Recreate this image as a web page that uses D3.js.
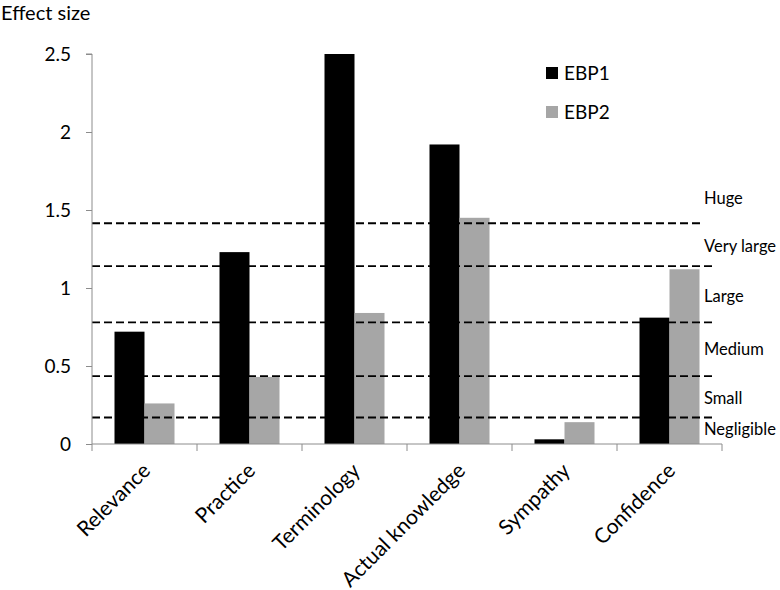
<!DOCTYPE html>
<html>
<head>
<meta charset="utf-8">
<script src="https://cdn.jsdelivr.net/npm/d3@7"></script>
<style>
  body { margin: 0; background: #fff; }
  text { font-family: Lato, "Open Sans", sans-serif; fill: #000; }
</style>
</head>
<body>
<svg id="chart" width="780" height="590"></svg>
<script>
const categories = ["Relevance", "Practice", "Terminology", "Actual knowledge", "Sympathy", "Confidence"];
const seriesNames = ["EBP1", "EBP2"];
const ebp1 = [0.72, 1.23, 2.5, 1.92, 0.03, 0.81];
const ebp2 = [0.26, 0.43, 0.84, 1.45, 0.14, 1.12];
const yTicks = [0, 0.5, 1, 1.5, 2, 2.5];
const thresholdValues = [0.17, 0.435, 0.78, 1.14, 1.415];
const thresholdLabels = ["Negligible", "Small", "Medium", "Large", "Very large", "Huge"];
const labelValues = [0.095, 0.295, 0.605, 0.95, 1.265, 1.575];
const colors = ["#000000", "#a6a6a6"];

(function () {
const svg = d3.select("#chart");
const mLeft = 92, mRight = 722, mTop = 54, mBottom = 444;

const x = d3.scaleBand().domain(categories).range([mLeft, mRight]).paddingInner(0).paddingOuter(0);
const xs = d3.scaleBand().domain(seriesNames).range([0, x.bandwidth()]).paddingInner(0).paddingOuter(0.75);
const y = d3.scaleLinear().domain([0, 2.5]).range([mBottom, mTop]);

const data = categories.map((c, i) => ({cat: c, vals: [ebp1[i], ebp2[i]]}));

// bars
const g = svg.append("g");
data.forEach(d => {
  d.vals.forEach((v, j) => {
    g.append("rect")
      .attr("x", x(d.cat) + xs(seriesNames[j]))
      .attr("y", y(v))
      .attr("width", xs.bandwidth())
      .attr("height", y(0) - y(v))
      .attr("fill", colors[j]);
  });
});

// threshold dashed lines
thresholdValues.forEach((t, i) => {
  svg.append("line")
    .attr("x1", mLeft).attr("x2", i === 4 ? 703 : 713)
    .attr("y1", y(t)).attr("y2", y(t))
    .attr("stroke", "#000").attr("stroke-width", 1.8)
    .attr("stroke-dasharray", "8,4");
});

// threshold labels
thresholdLabels.forEach((lab, i) => {
  svg.append("text")
    .attr("x", 704).attr("y", y(labelValues[i]))
    .attr("dy", "0.35em")
    .style("font-size", "16.5px")
    .text(lab);
});

// y axis
const yAxis = d3.axisLeft(y).tickValues(yTicks).tickSize(6).tickPadding(15)
  .tickFormat(d => d3.format("")(d));
const ya = svg.append("g").attr("transform", `translate(${mLeft},0)`).call(yAxis);
ya.select(".domain").attr("stroke", "#8c8c8c").attr("d", `M-6,${mTop}H0V${mBottom}`);
ya.selectAll(".tick line").attr("stroke", "#8c8c8c");
ya.selectAll(".tick text").style("font-size", "19px").style("font-family", "Lato, sans-serif").attr("fill", "#000");

// x axis
const xAxis = d3.axisBottom(x).tickSize(0).tickFormat("");
const xa = svg.append("g").attr("transform", `translate(0,${mBottom})`).call(xAxis);
xa.select(".domain").attr("stroke", "#8c8c8c").attr("d", `M${mLeft},0H${mRight}`);
xa.selectAll(".tick").remove();
const boundaries = categories.map(c => x(c)).concat([mRight]);
xa.selectAll("line.sep").data(boundaries).enter().append("line")
  .attr("x1", d => d).attr("x2", d => d).attr("y1", 0).attr("y2", 7)
  .attr("stroke", "#8c8c8c");

// category labels
svg.append("g").selectAll("text").data(categories).enter().append("text")
  .attr("transform", d => `translate(${x(d) + x.bandwidth() / 2 + 7},${mBottom + 28}) rotate(-45)`)
  .attr("text-anchor", "end")
  .style("font-size", "21px")
  .text(d => d);

// y title
svg.append("text").attr("x", 1).attr("y", 20).style("font-size", "20px").text("Effect size");

// legend
seriesNames.forEach((s, i) => {
  const ly = 73 + i * 39;
  svg.append("rect").attr("x", 546).attr("y", ly - 6).attr("width", 12).attr("height", 12).attr("fill", colors[i]);
  svg.append("text").attr("x", 564).attr("y", ly).attr("dy", "0.35em").style("font-size", "19px").text(s);
});
})();
</script>
</body>
</html>
